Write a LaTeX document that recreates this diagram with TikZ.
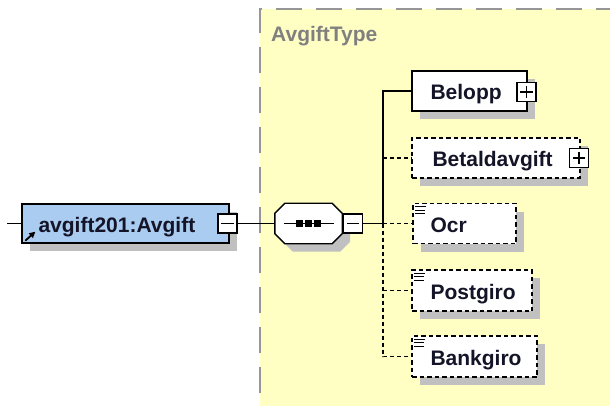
\documentclass[tikz,border=0pt]{standalone}
\usepackage{fontspec}
\setmainfont{Liberation Sans}
\usetikzlibrary{shadows,arrows.meta}
\definecolor{bgyel}{RGB}{255,255,196}
\definecolor{elblue}{RGB}{170,204,240}
\definecolor{shgray}{RGB}{192,192,192}
\definecolor{frgray}{RGB}{150,150,150}
\definecolor{lblgray}{RGB}{128,128,128}
\definecolor{txtdark}{RGB}{20,20,40}
\begin{document}
\begin{tikzpicture}[x=1pt,y=-1pt,
  shad/.style={drop shadow={shadow xshift=8pt, shadow yshift=-8pt, opacity=1, fill=shgray}},
  box/.style={draw=black, line width=1.4pt, fill=white, minimum height=40pt, inner sep=0pt, shad},
  optbox/.style={box, dash pattern=on 4.5pt off 3pt},
  pm/.style={draw=black, line width=1.1pt, fill=white, minimum size=19pt, inner sep=0pt},
  lbl/.style={anchor=base west, text=txtdark, font=\bfseries\fontsize{21}{24}\selectfont, inner sep=0pt},
  conn/.style={line width=1.3pt},
  dconn/.style={conn, dash pattern=on 4pt off 3pt},
  mark3/.style={line width=1.1pt}]
\useasboundingbox (0,0) rectangle (610,406);
% complex type frame
\fill[bgyel] (260,9) rectangle (612,408);
\draw[frgray, line width=2pt, dash pattern=on 26pt off 14pt, dash phase=10pt] (612,9) -- (260,9) -- (260,408);
\node[anchor=base west, inner sep=0pt, text=lblgray, font=\bfseries\fontsize{21}{24}\selectfont] (ctype) at (271,42) {AvgiftType};

% main element
\node[box, fill=elblue, minimum width=207pt, minimum height=39pt] (avg) at (125.5,223.5) {};
\node[lbl] (tavg) at ([xshift=17pt,yshift=-9pt]avg.west) {avgift201:Avgift};
\draw[line width=1.8pt, -{Triangle[length=6pt,width=6pt]}] ([xshift=4pt,yshift=3pt]avg.south west) -- ++(10,-9);
\node[pm] (am) at (227.5,223.5) {};
\draw[line width=1.1pt] ([xshift=4pt]am.west) -- ([xshift=-4pt]am.east);
\coordinate (in) at (7,223.5);
\draw[conn] (in) -- (avg.west);

% sequence compositor
\node[minimum width=67pt, minimum height=40pt, inner sep=0pt] (seq) at (308.5,223.5) {};
\draw[line width=1.4pt, fill=white, shad]
  ([xshift=10pt]seq.north west) -- ([xshift=-10pt]seq.north east) -- ([yshift=-10pt]seq.north east)
  -- ([yshift=10pt]seq.south east) -- ([xshift=-10pt]seq.south east) -- ([xshift=10pt]seq.south west)
  -- ([yshift=10pt]seq.south west) -- ([yshift=-10pt]seq.north west) -- cycle;
\draw[line width=1.1pt] ([xshift=-25pt]seq.center) -- ([xshift=25pt]seq.center);
\foreach \dx in {-9,0,9} \fill ([xshift=\dx pt]seq.center) ++(-3.5,-3.5) rectangle ++(7,7);
\node[pm] (sm) at (353,223.5) {};
\draw[line width=1.1pt] ([xshift=4pt]sm.west) -- ([xshift=-4pt]sm.east);
\draw[conn] (am.east) -- (seq.west);

% children
\node[box, minimum width=115pt] (bel) at (469.5,91) {};
\node[lbl] (tbel) at ([xshift=19pt,yshift=-9pt]bel.west) {Belopp};
\node[pm] (belp) at (526.5,92) {};
\draw[line width=1.1pt] ([xshift=4pt]belp.west) -- ([xshift=-4pt]belp.east) (belp.center) ++(0,-6) -- ++(0,12);

\node[optbox, minimum width=168pt] (bet) at (496,158) {};
\node[lbl] (tbet) at ([xshift=21pt,yshift=-9pt]bet.west) {Betaldavgift};
\node[pm] (betp) at (579,158) {};
\draw[line width=1.1pt] ([xshift=4pt]betp.west) -- ([xshift=-4pt]betp.east) (betp.center) ++(0,-6) -- ++(0,12);

\node[optbox, minimum width=103pt] (ocr) at (464.5,223.5) {};
\node[lbl] (tocr) at ([xshift=18pt,yshift=-9pt]ocr.west) {Ocr};
\node[optbox, minimum width=120pt, minimum height=41pt] (pg) at (472,290.5) {};
\node[lbl] (tpg) at ([xshift=19pt,yshift=-9pt]pg.west) {Postgiro};
\node[optbox, minimum width=125pt, minimum height=41pt] (bg) at (474.5,356.5) {};
\node[lbl] (tbg) at ([xshift=19pt,yshift=-9pt]bg.west) {Bankgiro};
\foreach \n in {ocr,pg,bg}{
  \draw[mark3] ([xshift=3pt,yshift=-4pt]\n.north west) -- ++(11,0);
  \draw[mark3] ([xshift=3pt,yshift=-7.5pt]\n.north west) -- ++(10,0);
  \draw[mark3] ([xshift=3pt,yshift=-11pt]\n.north west) -- ++(10,0);
}

% connectors
\coordinate (bus) at (383,223.5);
\draw[conn] (sm.east) -- (bus);
\draw[conn] (bus) |- (bel.west);
\draw[dconn] (bus |- bet.west) -- (bet.west);
\draw[dconn] (bus) -- (ocr.west);
\draw[dconn] (bus) -- (bus |- bg.west) -- (bg.west);
\draw[dconn] (bus |- pg.west) -- (pg.west);
\end{tikzpicture}
\end{document}
